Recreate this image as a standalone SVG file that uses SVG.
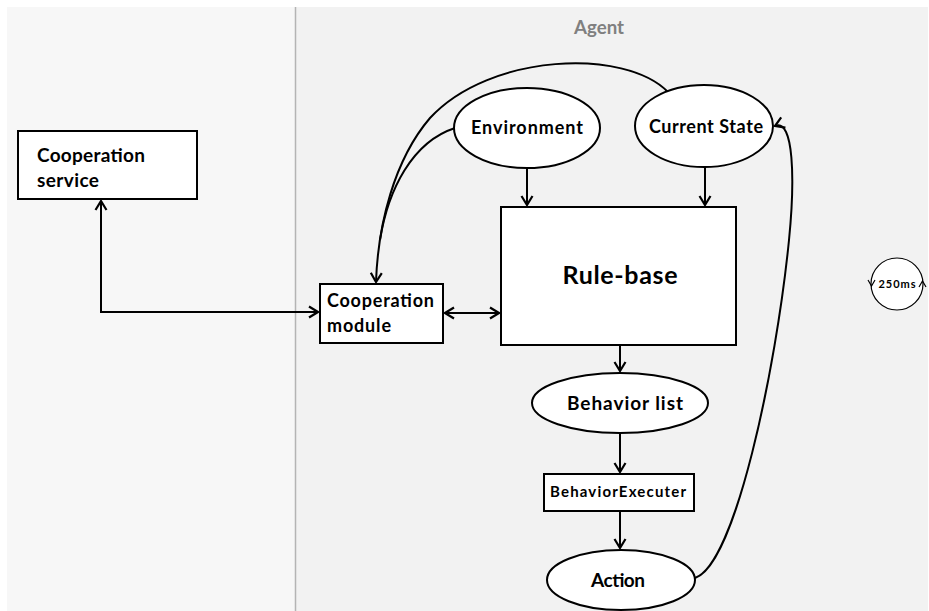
<svg xmlns="http://www.w3.org/2000/svg" width="929" height="611" viewBox="0 0 929 611">
  <defs>
    <style>
      .box { fill: #ffffff; stroke: #000000; stroke-width: 2; }
      .line { fill: none; stroke: #000000; stroke-width: 2; }
      .thin { fill: none; stroke: #000000; stroke-width: 1.2; }
      .lbl { font-family: Lato, "Liberation Sans", sans-serif; font-weight: bold; fill: #000000; }
      .mid { text-anchor: middle; }
      .title { fill: #808080; }
    </style>
    <marker id="arrow" viewBox="0 0 14 14" refX="13" refY="7" markerWidth="14" markerHeight="14" markerUnits="userSpaceOnUse" orient="auto-start-reverse">
      <path d="M4,1.5 L13,7 L4,12.5" fill="none" stroke="#000000" stroke-width="2.2"/>
    </marker>
  </defs>

  <!-- swimlane backgrounds -->
  <rect x="0" y="0" width="929" height="611" fill="#ffffff"/>
  <rect x="7" y="7" width="289" height="604" fill="#f7f7f7"/>
  <rect x="296" y="7" width="632" height="604" fill="#f2f2f2"/>
  <line x1="295.5" y1="7" x2="295.5" y2="611" stroke="#b4b4b4" stroke-width="1.5"/>
  <text class="lbl mid title" x="599" y="34" font-size="18" textLength="50" lengthAdjust="spacingAndGlyphs">Agent</text>

  <!-- connectors -->
  <g id="connectors">
    <path class="line" d="M101,201 L101,312 L318,312" marker-start="url(#arrow)" marker-end="url(#arrow)"/>
    <path class="line" d="M445,313 L499,313" marker-start="url(#arrow)" marker-end="url(#arrow)"/>
    <path class="line" d="M527,168 L527,205" marker-end="url(#arrow)"/>
    <path class="line" d="M705,167 L705,205" marker-end="url(#arrow)"/>
    <path class="line" d="M620,345 L620,371" marker-end="url(#arrow)"/>
    <path class="line" d="M620,433 L620,472" marker-end="url(#arrow)"/>
    <path class="line" d="M620,511 L620,548" marker-end="url(#arrow)"/>
    <path class="line" d="M668,92 C625,48 490,53 430,118 C394,160 378,225 376,282" marker-end="url(#arrow)"/>
    <path class="line" d="M455,128 C412,142 388,190 380,240"/>
    <path class="line" d="M695,578 C735,565 776,370 789,240 C795,180 794,118 775,126" marker-end="url(#arrow)"/>
  </g>

  <g id="cooperation-service">
    <rect class="box" x="18" y="131" width="179" height="68"/>
    <text class="lbl" x="37" y="162" font-size="19" textLength="108">Cooperation</text>
    <text class="lbl" x="37" y="187" font-size="19" textLength="62">service</text>
  </g>

  <g id="cooperation-module">
    <rect class="box" x="320" y="284" width="123" height="59"/>
    <text class="lbl" x="327" y="307" font-size="18" textLength="107">Cooperation</text>
    <text class="lbl" x="327" y="332" font-size="18" textLength="64">module</text>
  </g>

  <g id="environment">
    <ellipse class="box" cx="527" cy="128" rx="73" ry="40"/>
    <text class="lbl mid" x="527" y="134" font-size="18" textLength="112">Environment</text>
  </g>

  <g id="current-state">
    <ellipse class="box" cx="704" cy="126" rx="69" ry="41"/>
    <text class="lbl mid" x="706" y="133" font-size="18" textLength="114">Current State</text>
  </g>

  <g id="rule-base">
    <rect class="box" x="501" y="207" width="235" height="138"/>
    <text class="lbl mid" x="620" y="284" font-size="25" textLength="115">Rule-base</text>
  </g>

  <g id="behavior-list">
    <ellipse class="box" cx="620" cy="403" rx="88" ry="30"/>
    <text class="lbl mid" x="625" y="410" font-size="19" textLength="116">Behavior list</text>
  </g>

  <g id="behavior-executer">
    <rect class="box" x="544" y="474" width="150" height="37"/>
    <text class="lbl mid" x="618" y="497" font-size="15" textLength="136">BehaviorExecuter</text>
  </g>

  <g id="action">
    <ellipse class="box" cx="621" cy="580" rx="74" ry="30"/>
    <text class="lbl mid" x="618" y="587" font-size="19" textLength="54">Action</text>
  </g>

  <g id="timer">
    <circle fill="#ffffff" stroke="#000000" stroke-width="1.2" cx="897" cy="284" r="26"/>
    <!-- rotation ticks on the rim -->
    <path class="thin" d="M868,280 L871.5,286 L875,280"/>
    <path class="thin" d="M919,287 L922.5,281 L926,287"/>
    <text class="lbl mid" x="897" y="288" font-size="11" textLength="37">250ms</text>
  </g>
</svg>
